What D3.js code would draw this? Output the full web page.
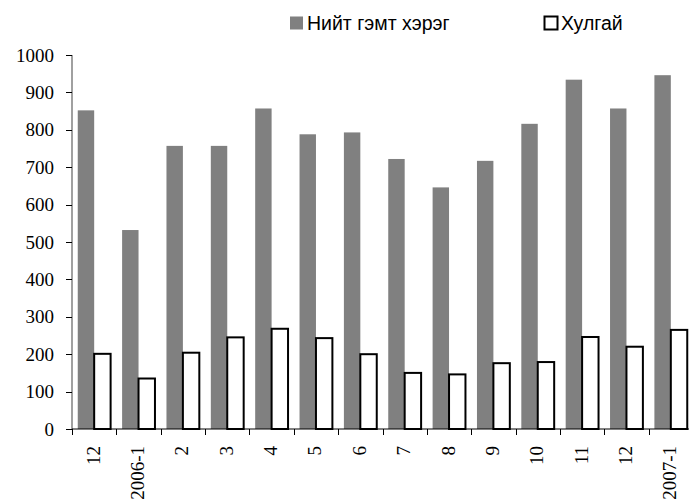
<!DOCTYPE html>
<html>
<head>
<meta charset="utf-8">
<script src="https://cdn.jsdelivr.net/npm/d3@7"></script>
</head>
<body style="margin:0">
<svg></svg>
<script>
const months = ['12', '2006-1', '2', '3', '4', '5', '6', '7', '8', '9', '10', '11', '12', '2007-1'];
const seriesNames = ['Нийт гэмт хэрэг', 'Хулгай'];
const totalCrime = [852, 532, 757, 757, 857, 788, 793, 722, 646, 717, 816, 934, 857, 946];
const theft = [201, 135, 204, 245, 268, 243, 200, 150, 146, 176, 179, 246, 220, 265];
const yTicks = [0, 100, 200, 300, 400, 500, 600, 700, 800, 900, 1000];

const w = 689;
const h = 504;
const margin = { top: 55, right: -4, bottom: 75, left: 72 };
const serif = 'Liberation Serif';

const svg = d3.select('svg').attr('width', w).attr('height', h);

// months repeat ("12" twice), so band on index
const x = d3
  .scaleBand()
  .domain(months.map((_, i) => i))
  .range([margin.left, w - margin.right]);

const sub = d3
  .scaleBand()
  .domain(seriesNames)
  .range([0, x.bandwidth()])
  .paddingOuter(0.35);

const y = d3
  .scaleLinear()
  .domain([0, 1000])
  .range([h - margin.bottom, margin.top]);

// bars
svg
  .selectAll('rect.total')
  .data(totalCrime)
  .enter()
  .append('rect')
  .attr('class', 'total')
  .attr('x', (d, i) => x(i) + sub(seriesNames[0]))
  .attr('width', sub.bandwidth())
  .attr('y', (d) => y(d))
  .attr('height', (d) => y(0) - y(d))
  .attr('fill', '#808080');

svg
  .selectAll('rect.theft')
  .data(theft)
  .enter()
  .append('rect')
  .attr('class', 'theft')
  .attr('x', (d, i) => x(i) + sub(seriesNames[1]))
  .attr('width', sub.bandwidth())
  .attr('y', (d) => y(d))
  .attr('height', (d) => y(0) - y(d))
  .attr('fill', '#fff')
  .attr('stroke', '#000')
  .attr('stroke-width', 2);

// y axis
svg
  .append('line')
  .attr('x1', margin.left)
  .attr('x2', margin.left)
  .attr('y1', y(1000))
  .attr('y2', y(0))
  .attr('stroke', '#808080')
  .attr('stroke-width', 1.5);
svg
  .selectAll('line.ytick')
  .data(yTicks)
  .enter()
  .append('line')
  .attr('class', 'ytick')
  .attr('x1', margin.left - 6)
  .attr('x2', margin.left)
  .attr('y1', (d) => Math.round(y(d)) + 0.5)
  .attr('y2', (d) => Math.round(y(d)) + 0.5)
  .attr('stroke', '#000');
svg
  .selectAll('text.ylab')
  .data(yTicks)
  .enter()
  .append('text')
  .attr('class', 'ylab')
  .attr('x', margin.left - 18)
  .attr('y', (d) => y(d) + 6.5)
  .attr('text-anchor', 'end')
  .attr('font-family', serif)
  .attr('font-size', 19)
  .text((d) => d);

// x axis: ticks at category boundaries
svg
  .append('line')
  .attr('x1', margin.left)
  .attr('x2', w - margin.right)
  .attr('y1', y(0))
  .attr('y2', y(0))
  .attr('stroke', '#000');
svg
  .selectAll('line.xtick')
  .data(months.map((_, i) => i))
  .enter()
  .append('line')
  .attr('class', 'xtick')
  .attr('x1', (d) => Math.round(x(d)) + 0.5)
  .attr('x2', (d) => Math.round(x(d)) + 0.5)
  .attr('y1', y(0))
  .attr('y2', y(0) + 6)
  .attr('stroke', '#000');
svg
  .selectAll('text.xlab')
  .data(months)
  .enter()
  .append('text')
  .attr('class', 'xlab')
  .attr('x', 0)
  .attr('y', 0)
  .attr('transform', (d, i) => `translate(${x(i) + x.bandwidth() / 2 + 5.5},${y(0) + 17}) rotate(-90)`)
  .attr('text-anchor', 'end')
  .attr('font-family', serif)
  .attr('font-size', 19)
  .text((d) => d);

// legend
svg
  .selectAll('rect.legend')
  .data(seriesNames)
  .enter()
  .append('rect')
  .attr('class', 'legend')
  .attr('x', (d, i) => (i === 0 ? 290 : 544.5))
  .attr('y', 16.5)
  .attr('width', 13)
  .attr('height', 13)
  .attr('fill', (d, i) => (i === 0 ? '#808080' : '#fff'))
  .attr('stroke', (d, i) => (i === 0 ? 'none' : '#000'))
  .attr('stroke-width', 2);

svg
  .selectAll('text.legend')
  .data(seriesNames)
  .enter()
  .append('text')
  .attr('class', 'legend')
  .attr('x', (d, i) => (i === 0 ? 307 : 561))
  .attr('y', 30)
  .attr('font-family', 'Liberation Sans')
  .attr('font-size', 19.5)
  .text((d) => d);
</script>
</body>
</html>
